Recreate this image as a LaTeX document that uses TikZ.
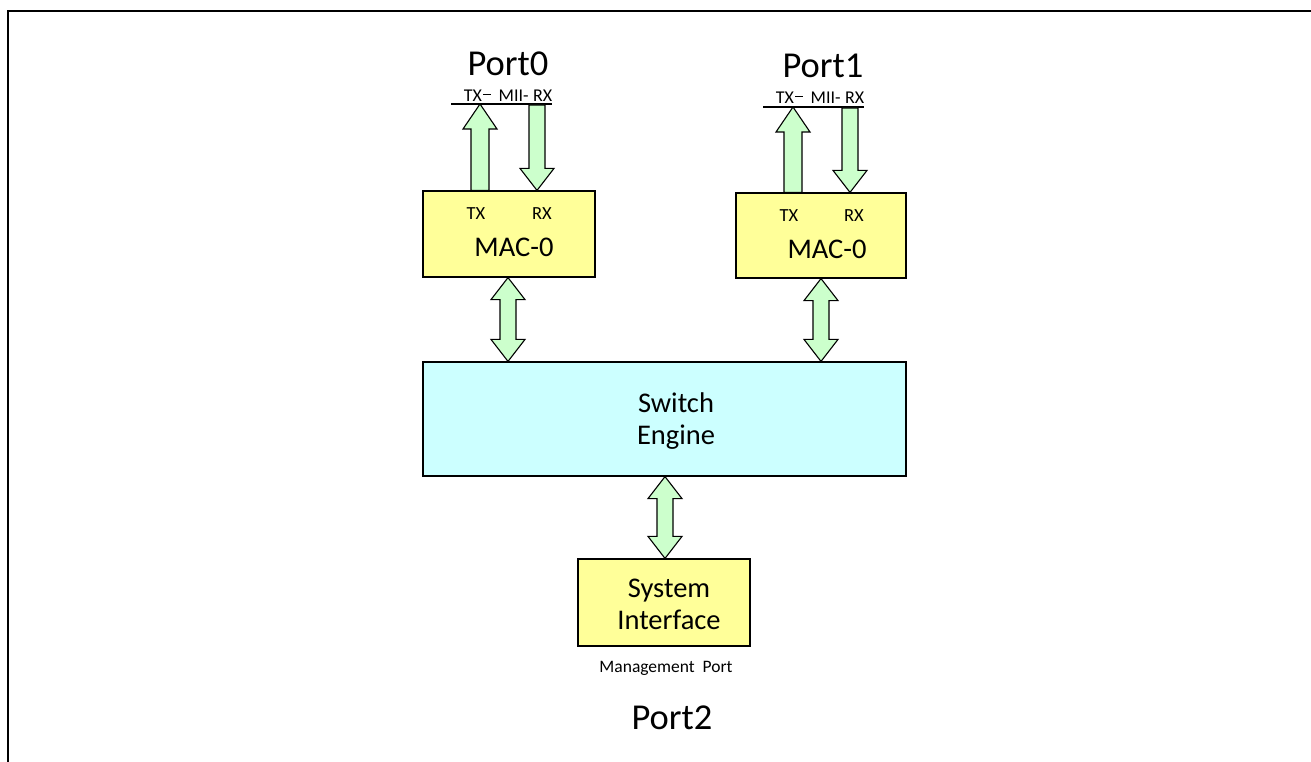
\documentclass[tikz,border=0pt]{standalone}
\usepackage{fontspec}
\setmainfont{Carlito}
\usetikzlibrary{calc}
\definecolor{boxyellow}{HTML}{FFFF99}
\definecolor{boxcyan}{HTML}{CCFFFF}
\definecolor{arrgreen}{HTML}{CCFFCC}
\tikzset{
  blk/.style={draw=black, line width=1.2pt, inner sep=0pt},
  macbox/.style={blk, fill=boxyellow},
  swbox/.style={blk, fill=boxcyan},
  arr/.style={draw=black, line width=1.1pt, fill=arrgreen, line join=miter},
  txt/.style={inner sep=0pt, text=black},
  porttxt/.style={txt, font=\fontsize{36.5}{40}\selectfont},
  boxtxt/.style={txt, align=center, font=\fontsize{28.5}{32.5}\selectfont},
  smalltxt/.style={txt, font=\fontsize{18.5}{20}\selectfont},
  mgmttxt/.style={txt, font=\fontsize{17.5}{20}\selectfont},
  miitxt/.style={txt, font=\fontsize{18}{20}\selectfont},
  miiline/.style={draw=black, line width=1.2pt},
  frame/.style={draw=black, line width=2pt},
}
% up arrow: #1 tail, #2 tip, canvas coords
\newcommand\uparrowshape[2]{%
  \draw[arr] let \p1=(#1), \p2=(#2) in
    (\x2-9pt,\y1) -- (\x2-9pt,\y2-25pt) -- (\x2-17pt,\y2-25pt) -- (\x2,\y2)
    -- (\x2+17pt,\y2-25pt) -- (\x2+9pt,\y2-25pt) -- (\x2+9pt,\y1) -- cycle;}
% down arrow: #1 tail, #2 tip
\newcommand\downarrowshape[2]{%
  \draw[arr] let \p1=(#1), \p2=(#2) in
    (\x2-8pt,\y1) -- (\x2-8pt,\y2+22pt) -- (\x2-17pt,\y2+22pt) -- (\x2,\y2)
    -- (\x2+17pt,\y2+22pt) -- (\x2+8pt,\y2+22pt) -- (\x2+8pt,\y1) -- cycle;}
% double arrow: #1 top tip, #2 bottom tip
\newcommand\dblarrowshape[2]{%
  \draw[arr] let \p1=(#1), \p2=(#2) in
    (\x1,\y1) -- (\x1+17pt,\y1-22pt) -- (\x1+8pt,\y1-22pt) -- (\x1+8pt,\y2+22pt)
    -- (\x1+17pt,\y2+22pt) -- (\x1,\y2) -- (\x1-17pt,\y2+22pt) -- (\x1-8pt,\y2+22pt)
    -- (\x1-8pt,\y1-22pt) -- (\x1-17pt,\y1-22pt) -- cycle;}
\newcommand\miilabel{TX\hspace{1.5pt}\raisebox{7pt}{\rule{8pt}{1.1pt}}\hspace{0.4em}MII-\hspace{0.25em}RX}
\begin{document}
\begin{tikzpicture}[x=1pt, y=-1pt]
  \useasboundingbox (0,0) rectangle (1311,762);
  % frame
  \coordinate (fTL) at (7.5,11);
  \coordinate (fTR) at (1311,11);
  \coordinate (fBL) at (7.5,762);
  \draw[frame] (fBL) -- (fTL) -- (fTR);

  % boxes
  \node[macbox, minimum width=172, minimum height=86] (mac0) at (509,234) {};
  \node[macbox, minimum width=170, minimum height=85] (mac1) at (821,235.5) {};
  \node[swbox, minimum width=483, minimum height=114] (sw) at (664.5,419) {};
  \node[macbox, minimum width=172, minimum height=87] (sys) at (664,602.5) {};

  % box texts
  \node[smalltxt] (tx0) at (476,214) {TX};
  \node[smalltxt] (rx0) at (542,214) {RX};
  \node[boxtxt] (mac0l) at (514,247) {MAC-0};
  \node[smalltxt] (tx1) at (789,216) {TX};
  \node[smalltxt] (rx1) at (854,216) {RX};
  \node[boxtxt] (mac1l) at (827,249) {MAC-0};
  \node[boxtxt] (swl) at (676,421) {Switch\\Engine};
  \node[boxtxt] (sysl) at (669,604.5) {System\\Interface};
  \node[mgmttxt] (mgmt) at (666,668) {Management\hspace{0.45em}Port};
  \node[porttxt] (p2) at (672,718) {Port2};

  % port labels
  \node[porttxt] (p0) at (508,64) {Port0};
  \node[porttxt] (p1) at (823,66) {Port1};
  \node[miitxt] (mii0) at (508,96) {\miilabel};
  \node[miitxt] (mii1) at (820,98) {\miilabel};

  % MII lines
  \coordinate (m0a) at (451,104);
  \coordinate (m0b) at (552,104);
  \coordinate (m1a) at (763,107);
  \coordinate (m1b) at (864,107);
  \draw[miiline] (m0a) -- (m0b);
  \draw[miiline] (m1a) -- (m1b);

  % TX / RX arrows
  \coordinate (t0tip) at (480,104);
  \coordinate (r0top) at (537,105);
  \coordinate (t1tip) at (793,107);
  \coordinate (r1top) at (850,108);
  \uparrowshape{t0tip |- mac0.north}{t0tip}
  \downarrowshape{r0top}{r0top |- mac0.north}
  \uparrowshape{t1tip |- mac1.north}{t1tip}
  \downarrowshape{r1top}{r1top |- mac1.north}

  % bidirectional arrows
  \coordinate (d0) at (508,0);
  \coordinate (d1) at (821,0);
  \coordinate (d2) at (665,0);
  \dblarrowshape{d0 |- mac0.south}{d0 |- sw.north}
  \dblarrowshape{d1 |- mac1.south}{d1 |- sw.north}
  \dblarrowshape{d2 |- sw.south}{d2 |- sys.north}
\end{tikzpicture}
\end{document}
